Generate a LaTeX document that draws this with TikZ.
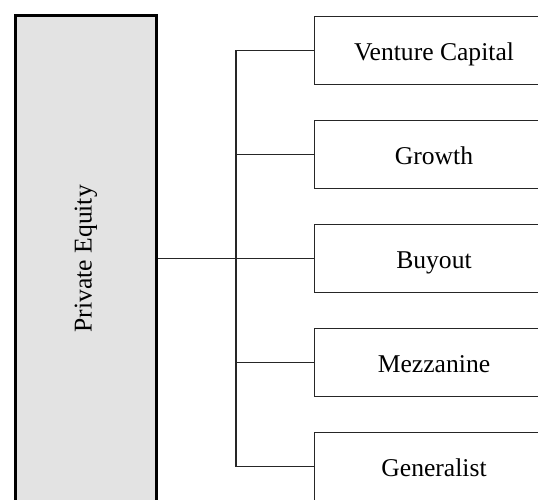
\documentclass[tikz,border=0pt]{standalone}
\usepackage{fontspec}
\setmainfont{Liberation Serif}
\usetikzlibrary{positioning}

\begin{document}
\begin{tikzpicture}[x=1pt,y=-1pt,
	txt/.style = {font=\fontsize{25.6}{30}\selectfont},
	root/.style = {draw=black,line width=3pt,fill=black!11,minimum width=141pt,minimum height=486.5pt,inner sep=0pt},
	kind/.style = {draw=black!85,line width=1.5pt,minimum width=239pt,minimum height=68pt,inner sep=0pt,outer sep=0pt,text height=20pt,text depth=0pt,txt},
	link/.style = {draw=black!85,line width=1.5pt},
	node distance=36pt
	]
	\useasboundingbox (0,0) rectangle (538,500);
	\clip (0,0) rectangle (538,500);
	%RADICE
	\node[root,label={[rotate=90,txt]center:Private Equity}] (pe) at (86,258.75) {};
	%CATEGORIE
	\node[kind] (vc) at (434,50.5) {Venture Capital};
	\node[kind,below=of vc] (gr) {Growth};
	\node[kind,below=of gr] (bo) {Buyout};
	\node[kind,below=of bo] (mz) {Mezzanine};
	\node[kind,below=of mz] (ge) {Generalist};
	%TRONCO
	\coordinate (trunk) at (236,0);
	\draw[link] (vc.west) -- (vc.west -| trunk) -- (ge.west -| trunk) -- (ge.west);
	\draw[link] (gr.west) -- (gr.west -| trunk);
	\draw[link] (mz.west) -- (mz.west -| trunk);
	\draw[link] (pe.east |- bo.west) -- (bo.west);
\end{tikzpicture}
\end{document}
